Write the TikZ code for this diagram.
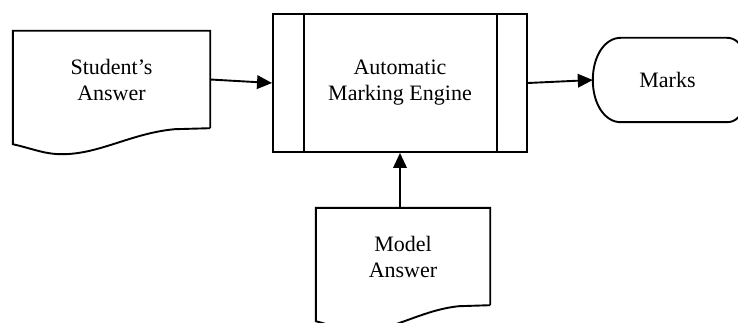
\documentclass[tikz,border=0pt]{standalone}
\usepackage{fontspec}
\setmainfont{Liberation Serif}
\usetikzlibrary{arrows.meta,calc}

\tikzset{
  outline/.style={draw=black, line width=1.9pt, line join=miter},
  flow/.style={draw=black, line width=1.9pt, -{Triangle[length=15pt,width=13.5pt]}},
  boxtext/.style={inner sep=0pt, align=center, font=\fontsize{22}{26}\selectfont},
  docbox/.style={boxtext, minimum height=97pt},
  procbox/.style={boxtext, outline, minimum width=254pt, minimum height=138pt},
  termbox/.style={boxtext, minimum width=149pt, minimum height=84pt},
}

% Document outline with a wavy bottom edge, built from a node's anchors
\newcommand{\docoutline}[1]{%
  \draw[outline]
    (#1.south east) -- (#1.north east) -- (#1.north west)
    -- ($(#1.south west)+(0,16)$)
    .. controls ($(#1.south west)!0.11!(#1.south east)+(0,21)$)
           and ($(#1.south west)!0.16!(#1.south east)+(0,26)$)
    .. ($(#1.south west)!0.25!(#1.south east)+(0,26)$)
    .. controls ($(#1.south west)!0.44!(#1.south east)+(0,26)$)
           and ($(#1.south west)!0.60!(#1.south east)+(0,5)$)
    .. ($(#1.south west)!0.82!(#1.south east)+(0,1)$)
    -- (#1.south east);
}

\begin{document}
\begin{tikzpicture}[x=1pt, y=-1pt]
  \clip (0,0) rectangle (738,323);
  \fill[white] (0,0) rectangle (738,323);

  % inputs
  \node[docbox, minimum width=197pt] (student) at (111.5,79.5) {Student’s\\Answer};
  \docoutline{student}

  \node[docbox, minimum width=174pt] (model) at (403,256.5) {Model\\Answer};
  \docoutline{model}

  % processing step with its two side bars
  \node[procbox] (engine) at (400,83) {Automatic\\Marking Engine};
  \draw[outline] ($(engine.north west)+(32,0)$) -- ($(engine.south west)+(32,0)$);
  \draw[outline] ($(engine.north east)+(-31,0)$) -- ($(engine.south east)+(-31,0)$);

  % output terminator: bulging left end, tighter right corners
  \node[termbox] (marks) at (667.5,80) {Marks};
  \draw[outline]
    ($(marks.north west)+(28,0)$)
    [rounded corners=15pt] -- (marks.north east) -- (marks.south east)
    [sharp corners] -- ($(marks.south west)+(28,0)$)
    .. controls ($(marks.south west)+(12,0)$) and ($(marks.west)+(0,24)$)
    .. (marks.west)
    .. controls ($(marks.west)+(0,-24)$) and ($(marks.north west)+(12,0)$)
    .. cycle;

  % connectors
  \draw[flow] (student.east) -- (engine.west);
  \draw[flow] (engine.south |- model.north) -- (engine.south);
  \draw[flow] (engine.east) -- (marks.west);
\end{tikzpicture}
\end{document}
